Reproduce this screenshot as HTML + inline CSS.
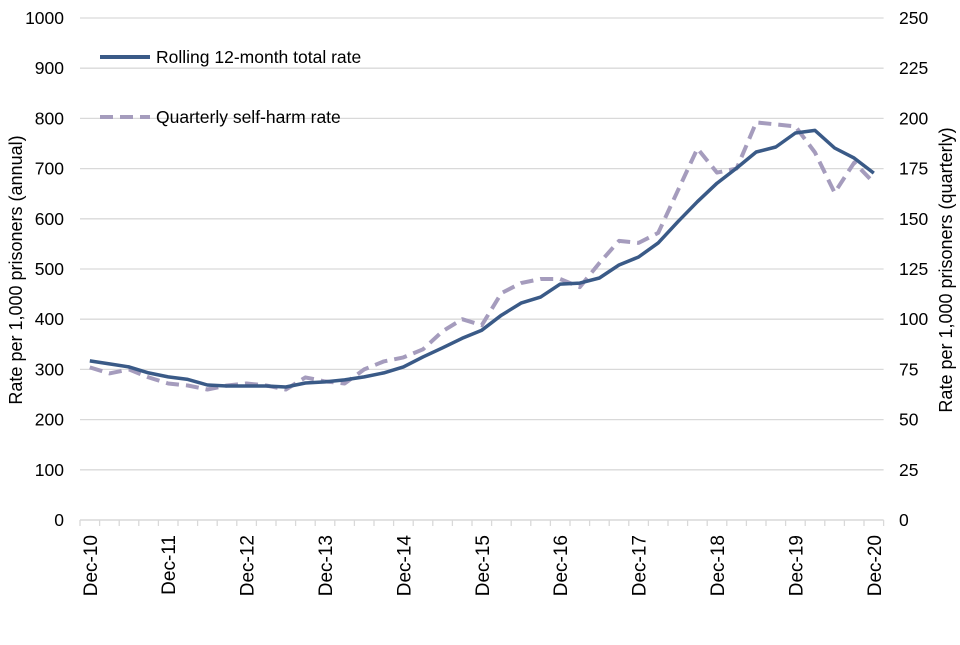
<!DOCTYPE html>
<html><head><meta charset="utf-8"><style>
body{margin:0;background:#fff;}
svg text{font-family:"Liberation Sans",Arial,sans-serif;fill:#000;}
</style></head><body>
<svg id="chart" width="960" height="640">
<g id="grid"></g>
<g id="axes"></g>
<g id="series"></g>
<text transform="translate(22,270) rotate(-90)" text-anchor="middle" font-size="18">Rate per 1,000 prisoners (annual)</text>
<text transform="translate(952,270) rotate(-90)" text-anchor="middle" font-size="18">Rate per 1,000 prisoners (quarterly)</text>
<g>
<line x1="100" y1="57" x2="150" y2="57" stroke="#3a5a87" stroke-width="4"/>
<text x="156" y="63" font-size="17.5">Rolling 12-month total rate</text>
<line x1="100" y1="117" x2="150" y2="117" stroke="#a59cbd" stroke-width="4" stroke-dasharray="13,7"/>
<text x="156" y="123" font-size="17.5">Quarterly self-harm rate</text>
</g>
</svg>
<script>
const rolling=[317,311,305,293,285,280,269,267,267,267,265,273,275,279,285,293,305,325,343,362,378,408,432,444,470,472,482,508,524,552,594,634,671,701,733,743,771,776,741,721,691];
const quarterly=[76,73,75,71,68,67,65,67,68,67,65,71,69,68,75,79,81,85,94,100,97,113,118,120,120,116,128,139,138,143,164,185,173,175,198,197,196,183,163,178,168];
const leftTicks=[0,100,200,300,400,500,600,700,800,900,1000];
const rightTicks=[0,25,50,75,100,125,150,175,200,225,250];
const xLabels=["Dec-10","Dec-11","Dec-12","Dec-13","Dec-14","Dec-15","Dec-16","Dec-17","Dec-18","Dec-19","Dec-20"];
const NS="http://www.w3.org/2000/svg";
const x0=80,step=19.6,y0=520,yTop=18;
const n=rolling.length;
const xEnd=x0+step*n;
function xs(i){return x0+step*(i+0.5);}
function yL(v){return y0-(y0-yTop)*v/1000;}
function yR(v){return y0-(y0-yTop)*v/250;}
function mk(tag,attrs,parent){const e=document.createElementNS(NS,tag);for(const k in attrs)e.setAttribute(k,attrs[k]);parent.appendChild(e);return e;}
const grid=document.getElementById('grid'),axes=document.getElementById('axes'),series=document.getElementById('series');
leftTicks.forEach((v,i)=>{
 if(v>0){const g=mk('line',{x1:x0,x2:xEnd,y1:yL(v),y2:yL(v),stroke:'#d9d9d9','stroke-width':1.3},grid);
 
 }
 const t=mk('text',{x:64,y:yL(v)+6,'text-anchor':'end','font-size':17.5},axes);t.textContent=v;
 
 
});
rightTicks.forEach(v=>{
 const t=mk('text',{x:899,y:yR(v)+6,'text-anchor':'start','font-size':17.5},axes);t.textContent=v;
 
 
});
const base=mk('line',{x1:x0,x2:xEnd,y1:y0,y2:y0,stroke:'#d9d9d9','stroke-width':1.5},axes);


for(let k=0;k<=n;k++){const tk=mk('line',{x1:x0+step*k,x2:x0+step*k,y1:y0,y2:y0+6,stroke:'#d9d9d9','stroke-width':1.3},axes);
 
 }
xLabels.forEach((s,j)=>{
 const x=xs(j*4);
 const t=mk('text',{transform:`translate(${x+7},535) rotate(-90)`,'text-anchor':'end','font-size':19},axes);t.textContent=s;
 
 
});
const dq=quarterly.map((v,i)=>(i?'L':'M')+xs(i).toFixed(1)+','+yR(v).toFixed(1)).join(' ');
const p2=mk('path',{d:dq,fill:'none',stroke:'#a59cbd','stroke-width':4,'stroke-dasharray':'13,7','stroke-linejoin':'round'},series);


const dr=rolling.map((v,i)=>(i?'L':'M')+xs(i).toFixed(1)+','+yL(v).toFixed(1)).join(' ');
const p1=mk('path',{d:dr,fill:'none',stroke:'#3a5a87','stroke-width':3.5,'stroke-linejoin':'round'},series);


</script>
</body></html>
